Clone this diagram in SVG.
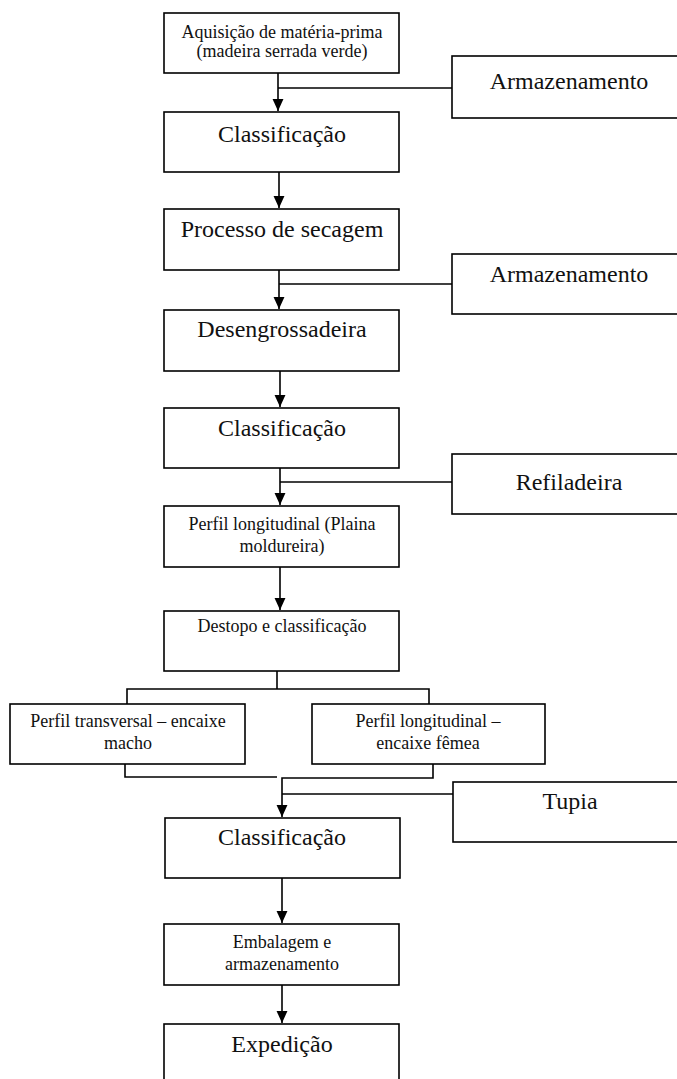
<svg xmlns="http://www.w3.org/2000/svg" width="677" height="1079" viewBox="0 0 677 1079">
<style>
.box{fill:#fff;stroke:#000;stroke-width:1.6}
.ln{fill:none;stroke:#000;stroke-width:1.6}
.t{font-family:"Liberation Serif","Times New Roman",serif;fill:#111;text-anchor:middle}
.big{font-size:24px}
.sm{font-size:18px}
</style>
<defs>
<marker id="ah" markerUnits="userSpaceOnUse" markerWidth="12" markerHeight="12" viewBox="0 0 11 10" refX="11" refY="5" orient="auto">
<path d="M0,0 L11,5 L0,10 Z" fill="#000"/>
</marker>
</defs>
<rect width="677" height="1079" fill="#fff"/>
<g id="connectors">
<path class="ln" d="M278,73 V111" marker-end="url(#ah)"/>
<path class="ln" d="M278,88 H452"/>
<path class="ln" d="M279,172 V208" marker-end="url(#ah)"/>
<path class="ln" d="M279,270 V309" marker-end="url(#ah)"/>
<path class="ln" d="M279,284 H452"/>
<path class="ln" d="M280,371 V407" marker-end="url(#ah)"/>
<path class="ln" d="M280,468 V505" marker-end="url(#ah)"/>
<path class="ln" d="M280,482 H452"/>
<path class="ln" d="M280,567 V610" marker-end="url(#ah)"/>
<path class="ln" d="M277,671 V689 M127,704 V689 H429 V704"/>
<path class="ln" d="M125,764 V777 H277"/>
<path class="ln" d="M433,764 V778 H282 V817" marker-end="url(#ah)"/>
<path class="ln" d="M282,794 H453"/>
<path class="ln" d="M282,878 V923" marker-end="url(#ah)"/>
<path class="ln" d="M282,985 V1023" marker-end="url(#ah)"/>
</g>
<g id="n1"><rect class="box" x="164" y="13" width="235" height="60"/><text class="t sm" x="282" y="38">Aquisição de matéria-prima</text><text class="t sm" x="282" y="57">(madeira serrada verde)</text></g>
<g id="n2"><rect class="box" x="164" y="112" width="235" height="60"/><text class="t big" x="282" y="142">Classificação</text></g>
<g id="n3"><rect class="box" x="164" y="209" width="235" height="61"/><text class="t big" x="282" y="237">Processo de secagem</text></g>
<g id="n4"><rect class="box" x="164" y="310" width="235" height="61"/><text class="t big" x="282" y="337">Desengrossadeira</text></g>
<g id="n5"><rect class="box" x="164" y="408" width="235" height="60"/><text class="t big" x="282" y="436">Classificação</text></g>
<g id="n6"><rect class="box" x="164" y="506" width="235" height="61"/><text class="t sm" x="282" y="530">Perfil longitudinal (Plaina</text><text class="t sm" x="282" y="552">moldureira)</text></g>
<g id="n7"><rect class="box" x="164" y="611" width="235" height="60"/><text class="t sm" x="282" y="632">Destopo e classificação</text></g>
<g id="n8"><rect class="box" x="10" y="704" width="235" height="60"/><text class="t sm" x="128" y="727">Perfil transversal – encaixe</text><text class="t sm" x="128" y="749">macho</text></g>
<g id="n9"><rect class="box" x="312" y="704" width="233" height="60"/><text class="t sm" x="428" y="727">Perfil longitudinal –</text><text class="t sm" x="428" y="749">encaixe fêmea</text></g>
<g id="n10"><rect class="box" x="165" y="818" width="235" height="60"/><text class="t big" x="282" y="845">Classificação</text></g>
<g id="n11"><rect class="box" x="164" y="924" width="235" height="61"/><text class="t sm" x="282" y="948">Embalagem e</text><text class="t sm" x="282" y="970">armazenamento</text></g>
<g id="n12"><rect class="box" x="164" y="1024" width="235" height="70"/><text class="t big" x="282" y="1052">Expedição</text></g>
<g id="s1"><rect class="box" x="452" y="56" width="236" height="62"/><text class="t big" x="569" y="89">Armazenamento</text></g>
<g id="s2"><rect class="box" x="452" y="254" width="236" height="60"/><text class="t big" x="569" y="282">Armazenamento</text></g>
<g id="s3"><rect class="box" x="452" y="454" width="236" height="60"/><text class="t big" x="569" y="490">Refiladeira</text></g>
<g id="s4"><rect class="box" x="453" y="782" width="236" height="60"/><text class="t big" x="570" y="809">Tupia</text></g>
</svg>
